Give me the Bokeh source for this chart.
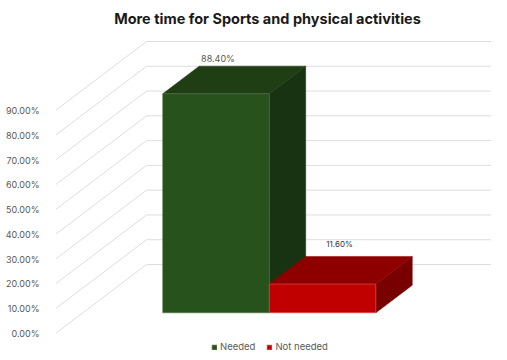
from bokeh.plotting import figure
from bokeh.models import (Range1d, LinearAxis, FixedTicker, NumeralTickFormatter,
                          ColumnDataSource, Legend, LegendItem, Label)
from bokeh.core.properties import value
from bokeh.embed import file_html
from bokeh.resources import INLINE

# ---------------- data ----------------
title_text = "More time for Sports and physical activities"
categories = ["Needed", "Not needed"]
shares = [0.884, 0.116]
share_labels = ["88.40%", "11.60%"]
y_ticks = [0.0, 0.1, 0.2, 0.3, 0.4, 0.5, 0.6, 0.7, 0.8, 0.9]

# ---------------- style ----------------
front_colors = ["#27521B", "#C00000"]
top_colors = ["#1F3E14", "#8E0000"]
side_colors = ["#183311", "#780000"]
edge_colors = ["#4F6E45", "#D65A5A"]
label_colors = ["#595959", "#333333"]
label_sizes = ["9px", "8px"]
label_dx = [2, 17]
label_dy = [-8, -12]
FONT = "Inter"

W, H = 491, 352
LEFT = 55
FW = W - LEFT
PX_X = 373.0     # px per category unit (floor width)
PX_Y = 247.8     # px per 100 %
ZERO_FROM_BOTTOM = 19.0
DX = 91.0 / PX_X  # depth offset in x units
DY = 69.0 / PX_Y  # depth offset in y units
Z0, Z1 = 0.3, 0.7

x_end = FW / PX_X
y_start = -ZERO_FROM_BOTTOM / PX_Y
y_end = (H - ZERO_FROM_BOTTOM) / PX_Y

p = figure(width=W, height=H, output_backend="svg", toolbar_location=None,
           x_range=Range1d(0, x_end), y_range=Range1d(y_start, y_end),
           x_axis_location=None, y_axis_location=None,
           min_border_left=LEFT, min_border_right=0, min_border_top=0, min_border_bottom=0)
p.outline_line_color = None
p.xgrid.visible = False
p.ygrid.visible = False

yaxis = LinearAxis(ticker=FixedTicker(ticks=y_ticks),
                   formatter=NumeralTickFormatter(format="0.00%"))
yaxis.axis_line_color = None
yaxis.major_tick_line_color = None
yaxis.minor_tick_line_color = None
yaxis.major_label_standoff = 10
yaxis.major_label_text_font = FONT
yaxis.major_label_text_font_size = "9px"
yaxis.major_label_text_color = "#595959"
p.add_layout(yaxis, "left")

# gridlines: side wall diagonals + back wall
grid_color = "#DDDDDD"
p.segment(x0=[0] * len(y_ticks), y0=y_ticks, x1=[DX] * len(y_ticks),
          y1=[t + DY for t in y_ticks], line_color=grid_color, line_width=1)
p.segment(x0=[DX] * len(y_ticks), y0=[t + DY for t in y_ticks],
          x1=[x_end + 0.1] * len(y_ticks), y1=[t + DY for t in y_ticks],
          line_color=grid_color, line_width=1)

n = len(shares)
bw = 1.0 / (n + 1.5)


def proj(x, v, z):
    return x + z * DX, v + z * DY


fronts = dict(xs=[], ys=[], color=[], edge=[], category=[])
tops = dict(xs=[], ys=[], color=[])
sides = dict(xs=[], ys=[], color=[])
lab = dict(x=[], y=[], text=[], color=[], size=[], dx=[], dy=[])
for i, v in enumerate(shares):
    x0 = 0.75 * bw + i * bw
    x1 = x0 + bw
    pts = [proj(x0, 0, Z0), proj(x1, 0, Z0), proj(x1, v, Z0), proj(x0, v, Z0)]
    fronts["xs"].append([q[0] for q in pts]); fronts["ys"].append([q[1] for q in pts])
    fronts["color"].append(front_colors[i]); fronts["edge"].append(edge_colors[i])
    fronts["category"].append(categories[i])
    pts = [proj(x0, v, Z0), proj(x1, v, Z0), proj(x1, v, Z1), proj(x0, v, Z1)]
    tops["xs"].append([q[0] for q in pts]); tops["ys"].append([q[1] for q in pts])
    tops["color"].append(top_colors[i])
    pts = [proj(x1, 0, Z0), proj(x1, 0, Z1), proj(x1, v, Z1), proj(x1, v, Z0)]
    sides["xs"].append([q[0] for q in pts]); sides["ys"].append([q[1] for q in pts])
    sides["color"].append(side_colors[i])
    cx, _ = proj((x0 + x1) / 2, v, Z0)
    _, cy = proj(x0, v, Z1)
    lab["x"].append(cx); lab["y"].append(cy); lab["text"].append(share_labels[i])
    lab["color"].append(label_colors[i]); lab["size"].append(label_sizes[i])
    lab["dx"].append(label_dx[i]); lab["dy"].append(label_dy[i])

# draw bars left to right so the right bar overlaps the left bar's side
front_src = ColumnDataSource(fronts)
front_r = p.patches(xs="xs", ys="ys", fill_color="color", line_color="edge",
                    line_width=0.6, source=front_src, visible=False)
for i in range(n):
    p.patches(xs=[sides["xs"][i]], ys=[sides["ys"][i]], fill_color=sides["color"][i],
              line_color=sides["color"][i], line_width=0.5)
    p.patches(xs=[tops["xs"][i]], ys=[tops["ys"][i]], fill_color=tops["color"][i],
              line_color=tops["color"][i], line_width=0.5)
    p.patches(xs=[fronts["xs"][i]], ys=[fronts["ys"][i]], fill_color=fronts["color"][i],
              line_color=fronts["edge"][i], line_width=0.6)

p.text(x="x", y="y", text="text", text_color="color", text_font_size="size",
       x_offset="dx", y_offset="dy", text_align="center", text_baseline="middle",
       text_font=value(FONT), source=ColumnDataSource(lab))

p.add_layout(Label(x=(267 - LEFT), y=H - 18, x_units="screen", y_units="screen",
                   text=title_text, text_align="center", text_baseline="middle",
                   text_font=FONT, text_font_size="14.5px", text_font_style="bold",
                   text_color="#1A1A1A"))

legend = Legend(items=[LegendItem(label=categories[i], renderers=[front_r], index=i)
                       for i in range(n)],
                orientation="horizontal", location=(156, 0),
                glyph_width=6, glyph_height=6, label_height=10,
                label_text_font=FONT, label_text_font_size="9.5px",
                label_text_color="#595959", label_standoff=3, spacing=11,
                padding=2, margin=0, border_line_color=None,
                background_fill_alpha=0)
p.add_layout(legend)

open("out.html", "w").write(file_html(p, INLINE))
